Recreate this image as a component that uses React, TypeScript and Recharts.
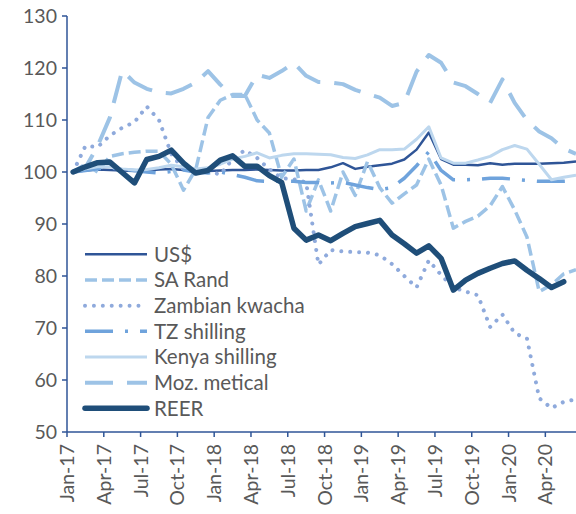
import React from 'react';
import { LineChart, Line, XAxis, YAxis } from 'recharts';

const months = [
  'Jan-17','Feb-17','Mar-17','Apr-17','May-17','Jun-17','Jul-17','Aug-17','Sep-17','Oct-17','Nov-17','Dec-17',
  'Jan-18','Feb-18','Mar-18','Apr-18','May-18','Jun-18','Jul-18','Aug-18','Sep-18','Oct-18','Nov-18','Dec-18',
  'Jan-19','Feb-19','Mar-19','Apr-19','May-19','Jun-19','Jul-19','Aug-19','Sep-19','Oct-19','Nov-19','Dec-19',
  'Jan-20','Feb-20','Mar-20','Apr-20','May-20','Jun-20',
];
const tickLabels = ['Jan-17','Apr-17','Jul-17','Oct-17','Jan-18','Apr-18','Jul-18','Oct-18','Jan-19','Apr-19','Jul-19','Oct-19','Jan-20','Apr-20'];
const yTicks = [50, 60, 70, 80, 90, 100, 110, 120, 130];

const usd = [100,100.3,100.5,100.4,100.3,100.2,100.3,100.5,100.6,100.4,100.2,100.2,100.3,100.4,100.4,100.5,100.4,100.3,100.3,100.4,100.4,100.9,101.7,100.6,101,101.3,101.6,102.4,104.3,107.6,102.5,101.4,101.4,101.3,101.7,101.4,101.6,101.6,101.6,101.7,101.8,102];
const rand = [100,101.5,100,103,103.5,103.8,104,104,101.5,96.5,100.5,110.5,113.8,114.9,114.9,110,107.5,99,102.5,92.5,98.5,92.5,100,95.5,102,97,94,95.8,97.5,102.5,97.5,89.2,90.5,91.5,93.5,97.2,92.7,87.5,77,78.3,80.4,81.2];
const kwacha = [100,105,104.8,107,108.5,109.6,112.6,110,103.5,100.5,100,100.2,99.5,102.5,104.2,102.7,100.5,98.8,98.6,98,82.2,85,84.7,84.6,84.5,84,82.3,80,77.8,83,80.2,77.8,77,76.3,70.2,72.6,69,68,56.5,54.6,55.8,56.3];
const tzs = [100,100.3,100.6,100.8,100.5,100.3,100,99.8,100.1,100.4,100,99.8,100,99.5,99,98.3,98.2,98.2,98.2,98,98,97.9,98,97.5,97,96.6,97,98.8,101.2,103.9,100.3,98.5,98.5,98.6,98.8,98.8,98.6,98.4,98.2,98.2,98.2,98.3];
const kes = [100,100.6,101,101,100.6,100.4,100.5,100.8,101.3,101,100.6,100.8,101.5,102.5,103,103.7,102.7,103.2,103.5,103.5,103.4,103.3,102.8,102.6,103.3,104.3,104.3,104.4,106.3,108.7,102.7,101.7,101.7,102.3,103,104.3,105.1,104.4,101.5,98.5,99,99.4];
const mzn = [100,100.8,105,110.5,119.5,117.2,116,115.3,115.1,116,117.2,119.4,116.8,114.6,114.6,118.7,118.1,119.4,121,118.5,117.3,117.2,116.9,115.8,115,114.3,112.7,113.3,119.3,122.5,121,117.2,116.5,115,113.3,117.8,113.3,110,107.8,106.5,104.5,103.5];
const reer = [100,101,101.8,101.9,99.9,97.9,102.4,103,104.2,101.7,99.8,100.3,102.3,103.1,101.1,101.1,99.3,98,89.2,86.9,87.9,86.8,88.2,89.5,90.1,90.7,87.9,86.2,84.4,85.8,83.4,77.3,79.2,80.5,81.5,82.4,82.9,81.1,79.5,77.8,78.9,null];

const data = months.map((m, i) => ({
  t: i + 0.5,
  month: m,
  usd: usd[i],
  rand: rand[i],
  kwacha: kwacha[i],
  tzs: tzs[i],
  kes: kes[i],
  mzn: mzn[i],
  reer: reer[i],
}));

type S = { key: string; name: string; color: string; width: number; dash?: string; cap?: 'round' | 'butt' };
const series: S[] = [
  { key: 'usd', name: 'US$', color: '#2F5597', width: 2.5 },
  { key: 'rand', name: 'SA Rand', color: '#9DC3E6', width: 3.5, dash: '12 5' },
  { key: 'kwacha', name: 'Zambian kwacha', color: '#8FAADC', width: 4, dash: '0.01 8.9', cap: 'round' },
  { key: 'tzs', name: 'TZ shilling', color: '#6FA3DC', width: 3.5, dash: '28 12 3 12' },
  { key: 'kes', name: 'Kenya shilling', color: '#BDD7EE', width: 3 },
  { key: 'mzn', name: 'Moz. metical', color: '#9DC3E6', width: 4, dash: '28 14' },
  { key: 'reer', name: 'REER', color: '#1F4E79', width: 5.5, cap: 'round' },
];

const FONT = 'Lato, "Noto Sans", sans-serif';
const TEXT = '#595959';
const AXIS = '#2F5597';

const XTick = (props: any) => {
  const { x, y, payload } = props;
  const idx = Math.round(payload.value / 3);
  return (
    <text
      x={x}
      y={y}
      transform={`rotate(-90, ${x}, ${y})`}
      textAnchor="end"
      dy="0.36em"
      fill={TEXT}
      fontSize={19.5}
      fontFamily={FONT}
    >
      {tickLabels[idx]}
    </text>
  );
};

export default function App() {
  const legendTop = 254.3;
  const legendStep = 25.67;
  return (
    <div style={{ position: 'absolute', left: 0, top: 0, width: 576, height: 514, background: '#fff', overflow: 'hidden' }}>
      <LineChart width={590} height={514} data={data} margin={{ top: 16, right: 14, bottom: 0, left: 0 }}>
        <XAxis
          type="number"
          dataKey="t"
          domain={[0, 41]}
          ticks={tickLabels.map((_, i) => i * 3)}
          tick={<XTick />}
          height={82}
          tickSize={5}
          tickMargin={7}
          axisLine={{ stroke: AXIS, strokeWidth: 1.5 }}
          tickLine={{ stroke: AXIS, strokeWidth: 1.5 }}
          interval={0}
        />
        <YAxis
          type="number"
          domain={[50, 130]}
          ticks={yTicks}
          width={67}
          tickSize={5}
          tickMargin={5}
          interval={0}
          axisLine={{ stroke: AXIS, strokeWidth: 1.5 }}
          tickLine={{ stroke: AXIS, strokeWidth: 1.5 }}
          tick={{ fill: TEXT, fontSize: 19.5, fontFamily: FONT }}
        />
        {series.map((s) => (
          <Line
            key={s.key}
            type="linear"
            dataKey={s.key}
            name={s.name}
            stroke={s.color}
            strokeWidth={s.width}
            strokeDasharray={s.dash}
            strokeLinecap={s.cap || 'butt'}
            strokeLinejoin="round"
            dot={false}
            activeDot={false}
            connectNulls={false}
            isAnimationActive={false}
          />
        ))}
      </LineChart>
      <svg width={576} height={514} style={{ position: 'absolute', left: 0, top: 0, pointerEvents: 'none' }}>
        {series.map((s, i) => {
          const y = legendTop + i * legendStep;
          return (
            <g key={s.key}>
              <line
                x1={85}
                x2={147}
                y1={y}
                y2={y}
                stroke={s.color}
                strokeWidth={s.width}
                strokeDasharray={s.dash}
                strokeLinecap={s.cap || 'butt'}
              />
              <text x={154} y={y} dy="0.36em" fill={TEXT} fontSize={20.5} fontFamily={FONT}>
                {s.name}
              </text>
            </g>
          );
        })}
      </svg>
    </div>
  );
}
